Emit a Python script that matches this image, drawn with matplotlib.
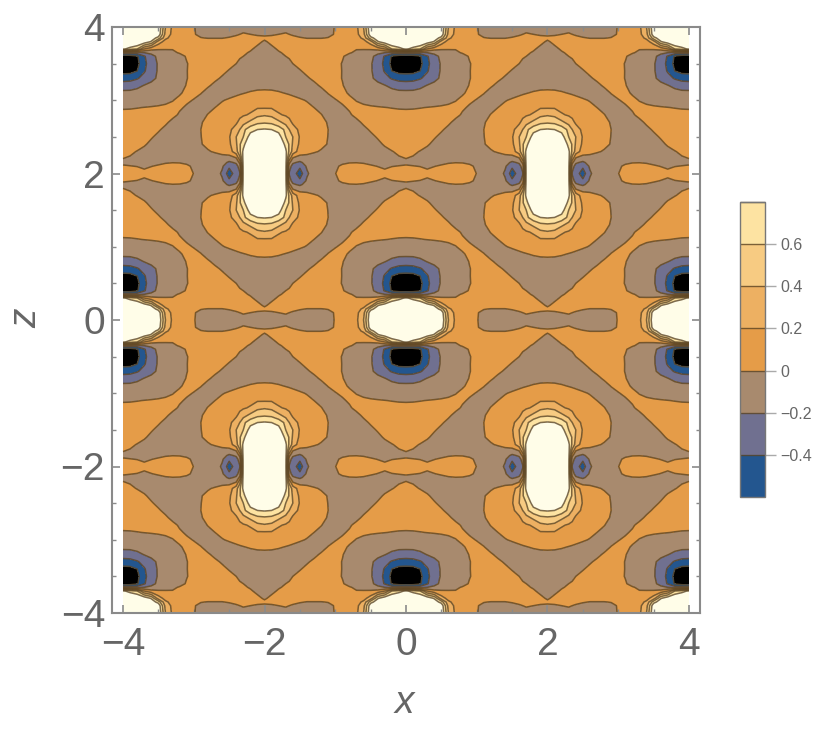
import numpy as np
import matplotlib
matplotlib.use("Agg")
import matplotlib.pyplot as plt
from matplotlib.colors import ListedColormap, BoundaryNorm
from matplotlib.cm import ScalarMappable
from matplotlib.ticker import MultipleLocator

plt.rcParams['font.family'] = ['Liberation Sans', 'DejaVu Sans']

# one repeating cell of the field, x in 0..2 and z in 0..2
x_cell = [0, .1, .2, .3, .4, .5, .6, .7, .8, .9, 1.0, 1.1, 1.2, 1.3, 1.4, 1.5, 1.6, 1.65, 1.7, 1.8, 1.9, 2.0]
z_cell = [0, .1, .15, .2, .3, .35, .4, .5, .6, .7, .8, .9, 1.0, 1.1, 1.2, 1.3, 1.4, 1.5, 1.6, 1.7, 1.8, 1.85, 1.9, 2.0]
field_cell = [
    [1.6, 1.55, 1.45, 1.3, 1.15, 1.0, .4, .16, .1, .06, .01, -.05, -.07, -.08, -.08, -.07, -.05, -.045, -.04, -.05, -.05, -.05],
    [1.5, 1.45, 1.35, 1.2, 1.08, .95, .33, .15, .09, .05, .01, -.03, -.04, -.05, -.05, -.04, -.01, 0, .01, 0, -.01, -.01],
    [1.4, 1.35, 1.25, 1.1, .92, .72, .24, .13, .08, .05, .03, .005, -.005, -.005, -.005, .01, .02, .025, .03, .03, .02, .012],
    [1.2, 1.15, 1.05, .95, .78, .3, .13, .09, .07, .06, .05, .05, .05, .05, .05, .05, .05, .045, .04, .03, .015, -.008],
    [.85, .7, .6, .2, .06, .02, .01, .005, .04, .06, .05, .05, .04, .035, .03, .025, .015, .01, .005, .008, -.015, -.05],
    [-.3, -.28, -.3, -.2, -.15, -.09, -.05, -.02, .01, .04, .04, .04, .04, .035, .03, .02, .012, .011, .01, -.006, -.03, -.06],
    [-.75, -.72, -.62, -.42, -.27, -.15, -.1, -.07, -.035, .01, .03, .035, .035, .03, .025, .02, .01, .005, 0, -.02, -.05, -.07],
    [-.85, -.8, -.66, -.45, -.29, -.18, -.12, -.09, -.05, -.005, .03, .035, .03, .02, .015, .012, 0, -.01, -.02, -.05, -.07, -.09],
    [-.68, -.67, -.6, -.42, -.28, -.18, -.12, -.08, -.04, -.003, .03, .03, .025, .015, .01, -.003, -.03, -.045, -.06, -.08, -.1, -.11],
    [-.48, -.47, -.42, -.33, -.25, -.17, -.12, -.08, -.04, -.003, .025, .02, .015, .008, -.005, -.03, -.05, -.06, -.07, -.09, -.1, -.1],
    [-.3, -.29, -.25, -.19, -.15, -.12, -.09, -.06, -.03, .005, .02, .015, .005, -.01, -.03, -.04, -.04, -.04, -.04, -.04, -.04, -.04],
    [-.15, -.15, -.13, -.11, -.09, -.07, -.05, -.03, -.005, .01, .01, .002, -.015, -.03, -.035, -.03, -.02, -.012, -.005, .01, .025, .03],
    [-.07, -.07, -.06, -.05, -.04, -.03, -.015, -.002, .01, .006, -.002, -.015, -.02, -.015, -.005, .01, .03, .04, .05, .07, .08, .08],
    [-.01, -.008, -.003, .002, .006, .01, .012, .012, .005, -.005, -.015, -.02, -.012, 0, .02, .05, .08, .1, .12, .15, .18, .18],
    [.03, .03, .03, .03, .03, .03, .025, .01, -.005, -.015, -.02, -.015, .002, .03, .06, .09, .13, .155, .18, .22, .35, .38],
    [.05, .05, .05, .045, .04, .025, .007, -.01, -.02, -.025, -.02, -.006, .02, .05, .09, .14, .17, .25, .32, .45, .55, .57],
    [.06, .06, .055, .045, .025, .005, -.01, -.02, -.025, -.025, -.02, 0, .03, .07, .11, .16, .28, .4, .55, .72, .8, .82],
    [.06, .055, .045, .025, .004, -.01, -.02, -.025, -.025, -.02, -.012, -.002, .03, .07, .12, .18, .4, .5, .6, .9, 1.05, 1.1],
    [.05, .04, .025, .005, -.01, -.02, -.025, -.03, -.03, -.025, -.015, -.005, .02, .05, .09, .16, .37, .58, .72, 1.1, 1.2, 1.25],
    [.03, .012, -.003, -.012, -.02, -.03, -.03, -.035, -.035, -.035, -.025, -.02, -.008, .01, .05, .1, .32, .56, .85, 1.25, 1.33, 1.35],
    [-.001, -.008, -.016, -.022, -.03, -.035, -.04, -.045, -.045, -.045, -.04, -.04, -.04, -.05, -.07, -.1, -.05, .3, .88, 1.35, 1.45, 1.5],
    [-.012, -.015, -.02, -.03, -.028, -.015, -.006, -.002, -.004, -.015, -.035, -.05, -.06, -.08, -.12, -.24, -.17, .05, .88, 1.4, 1.5, 1.55],
    [.006, .002, -.002, -.01, -.002, .008, .02, .03, .03, .015, -.015, -.04, -.06, -.09, -.17, -.36, -.27, -.12, .88, 1.45, 1.55, 1.6],
    [.05, .04, .03, .015, .03, .045, .055, .06, .055, .03, -.002, -.03, -.06, -.1, -.23, -.5, -.3, -.22, .88, 1.5, 1.6, 1.65],
]

levels = [-.6, -.4, -.2, 0, .2, .4, .6, .8]
band_colors = ['#23568f', '#707090', '#a88a6e', '#e59c48', '#edb062', '#f7cb82', '#fde3a2']
under_color = '#000000'
over_color = '#fffde8'
bar_ticks = [-.4, -.2, 0, .2, .4, .6]
bar_labels = ['\u22120.4', '\u22120.2', '0', '0.2', '0.4', '0.6']
GRAY = '#666666'
LINE = (.36, .27, .14, .8)

# the cell repeats by mirroring at every multiple of 2
cell = np.array(field_cell)
xs = np.array(x_cell)
zs = np.array(z_cell)
x_up = np.concatenate([xs, 4 - xs[-2::-1]])
z_up = np.concatenate([zs, 4 - zs[-2::-1]])
x_all = np.concatenate([-x_up[:0:-1], x_up])
z_all = np.concatenate([-z_up[:0:-1], z_up])
quarter = np.hstack([cell, cell[:, -2::-1]])
quarter = np.vstack([quarter, quarter[-2::-1, :]])
half = np.hstack([quarter[:, :0:-1], quarter])
full = np.vstack([half[:0:-1, :], half])

cmap = ListedColormap(band_colors)
cmap.set_under(under_color)
cmap.set_over(over_color)
norm = BoundaryNorm(levels, cmap.N)

W, H = 830, 733
fig = plt.figure(figsize=(W / 100, H / 100), dpi=100)
ax = fig.add_axes([112 / W, 1 - 613 / H, 588 / W, 586 / H])
ax.contourf(x_all, z_all, full, levels=levels, cmap=cmap, norm=norm, extend='both')
ax.contour(x_all, z_all, full, levels=levels, colors=[LINE], linewidths=1.1, linestyles='solid')
ax.set_xlim(-4.156, 4.156)
ax.set_ylim(-4, 4)

for s in ax.spines.values():
    s.set_color('#8a8a8a')
    s.set_linewidth(1.5)
ax.xaxis.set_major_locator(MultipleLocator(2))
ax.xaxis.set_minor_locator(MultipleLocator(.5))
ax.yaxis.set_major_locator(MultipleLocator(2))
ax.yaxis.set_minor_locator(MultipleLocator(.5))
ax.tick_params(which='major', direction='in', top=True, right=True, length=6, width=1.2,
               color='#8a8a8a', labelcolor=GRAY, labelsize=28)
ax.tick_params(which='minor', direction='in', top=True, right=True, length=3, width=1,
               color='#8a8a8a')
ax.tick_params(axis='x', which='major', pad=10)
ax.tick_params(axis='y', which='major', pad=5)
fmt = lambda v, p: f"{v:.0f}".replace('-', '\u2212')
ax.xaxis.set_major_formatter(fmt)
ax.yaxis.set_major_formatter(fmt)
fig.text(404 / W, 1 - 703 / H, 'x', color=GRAY, fontsize=28, style='italic', ha='center', va='center')
fig.text(26 / W, 1 - 318 / H, 'z', color=GRAY, fontsize=28, style='italic', ha='center', va='center',
         rotation=90)

cax = fig.add_axes([740 / W, 1 - 497 / H, 25 / W, 295 / H])
cb = fig.colorbar(ScalarMappable(norm=norm, cmap=cmap), cax=cax, extend='neither',
                  boundaries=levels, spacing='proportional', ticks=bar_ticks, drawedges=True)
cb.ax.set_yticklabels(bar_labels)
cb.ax.minorticks_off()
cb.dividers.set_color(LINE)
cb.dividers.set_linewidth(1.0)
cb.outline.set_edgecolor('#777777')
cb.outline.set_linewidth(1.0)
cb.ax.tick_params(length=8, width=1, color='#aaaaaa', labelcolor=GRAY, labelsize=11.5, pad=3)

fig.savefig('out.png', dpi=100)
